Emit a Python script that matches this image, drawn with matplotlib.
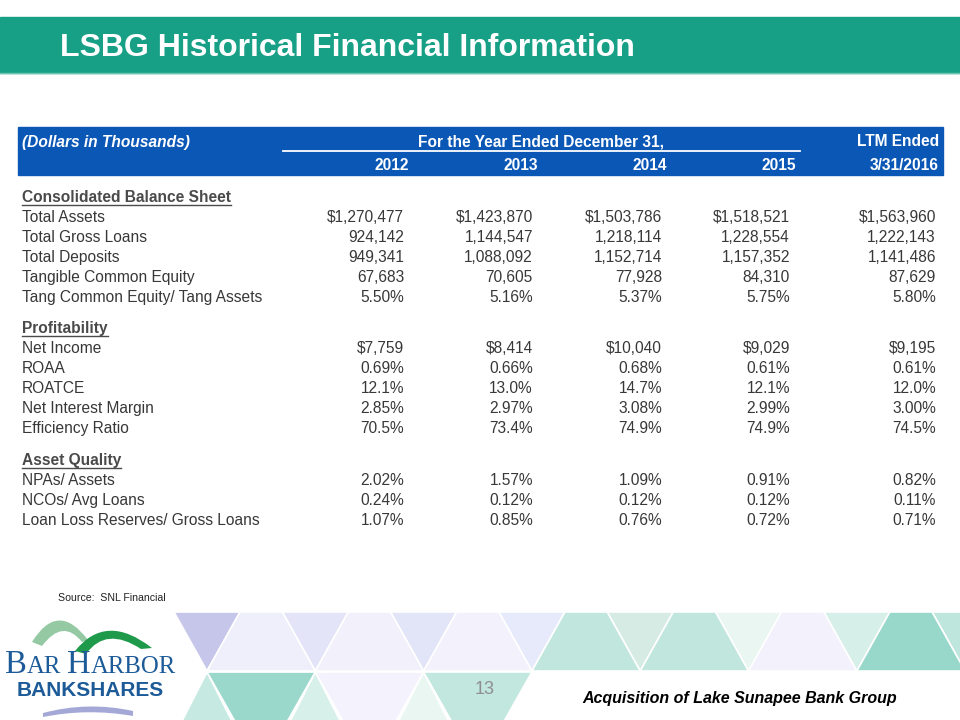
import matplotlib
matplotlib.use('Agg')
import matplotlib.pyplot as plt
from matplotlib.patches import Rectangle, Polygon, PathPatch
from matplotlib.path import Path

plt.rcParams['font.family'] = ['Liberation Sans', 'DejaVu Sans']

# table content
columns = ['2012', '2013', '2014', '2015', '3/31/2016']
sections = [
    ('Consolidated Balance Sheet', [
        ('Total Assets', ['$1,270,477', '$1,423,870', '$1,503,786', '$1,518,521', '$1,563,960']),
        ('Total Gross Loans', ['924,142', '1,144,547', '1,218,114', '1,228,554', '1,222,143']),
        ('Total Deposits', ['949,341', '1,088,092', '1,152,714', '1,157,352', '1,141,486']),
        ('Tangible Common Equity', ['67,683', '70,605', '77,928', '84,310', '87,629']),
        ('Tang Common Equity/ Tang Assets', ['5.50%', '5.16%', '5.37%', '5.75%', '5.80%']),
    ]),
    ('Profitability', [
        ('Net Income', ['$7,759', '$8,414', '$10,040', '$9,029', '$9,195']),
        ('ROAA', ['0.69%', '0.66%', '0.68%', '0.61%', '0.61%']),
        ('ROATCE', ['12.1%', '13.0%', '14.7%', '12.1%', '12.0%']),
        ('Net Interest Margin', ['2.85%', '2.97%', '3.08%', '2.99%', '3.00%']),
        ('Efficiency Ratio', ['70.5%', '73.4%', '74.9%', '74.9%', '74.5%']),
    ]),
    ('Asset Quality', [
        ('NPAs/ Assets', ['2.02%', '1.57%', '1.09%', '0.91%', '0.82%']),
        ('NCOs/ Avg Loans', ['0.24%', '0.12%', '0.12%', '0.12%', '0.11%']),
        ('Loan Loss Reserves/ Gross Loans', ['1.07%', '0.85%', '0.76%', '0.72%', '0.71%']),
    ]),
]

col_x = [404, 533, 662, 790, 936]
head_x = [409, 538, 667, 796, 939]
text_col = '#383838'
fs = 11.2

fig = plt.figure(figsize=(9.6, 7.2), dpi=100)
ax = fig.add_axes([0, 0, 1, 1])
ax.set_xlim(0, 960)
ax.set_ylim(720, 0)
ax.axis('off')

# title band
ax.add_patch(Rectangle((0, 17), 960, 56, color='#17a086'))
ax.plot([0, 960], [73, 73], color='#6cc4b0', lw=1)
ax.text(60, 48, 'LSBG Historical Financial Information', color='white',
        fontsize=23, fontweight='bold', va='center')

# table header
ax.add_patch(Rectangle((18, 127), 925, 48, color='#0b57b6'))
ax.text(22, 142, '(Dollars in Thousands)', color='white', fontsize=fs,
        fontweight='bold', style='italic', va='center')
ax.text(541, 142, 'For the Year Ended December 31,', color='white', fontsize=fs,
        fontweight='bold', va='center', ha='center')
ax.text(939, 142, 'LTM Ended', color='white', fontsize=fs,
        fontweight='bold', va='center', ha='right')
ax.plot([283, 800], [150.5, 150.5], color='white', lw=1.3)
for x, c in zip(head_x, columns):
    ax.text(x, 165, c, color='white', fontsize=fs, fontweight='bold',
            va='center', ha='right')

# table body
y = 197
headings = []
for title, rows in sections:
    t = ax.text(22, y, title, color='#4a4a4a', fontsize=fs,
                fontweight='bold', va='center')
    headings.append((t, y))
    y += 20
    for label, vals in rows:
        ax.text(22, y, label, color=text_col, fontsize=fs, va='center')
        for x, v in zip(col_x, vals):
            ax.text(x, y, v, color=text_col, fontsize=fs, va='center', ha='right')
        y += 20.1
    y += 11

# underline the section headings
fig.canvas.draw()
r = fig.canvas.get_renderer()
inv = ax.transData.inverted()
for t, yy in headings:
    bb = t.get_window_extent(r)
    x0, _ = inv.transform((bb.x0, bb.y0))
    x1, _ = inv.transform((bb.x1, bb.y0))
    ax.plot([x0, x1], [yy + 7.5, yy + 7.5], color='#4a4a4a', lw=1.0)

ax.text(58, 598, 'Source:  SNL Financial', color='#222222', fontsize=7.6, va='center')

# triangle band
apex = [207 + 108.3 * k for k in range(8)]
up_down = ['#c5c6ea', '#e4e4f8', '#e2e4f7', '#e6eafa', '#d5ebe3', '#e9f6f2', '#d6efe8', '#bfe6dd']
up_up = ['#efeffb', '#f1f0fb', '#f3f1fc', '#c0e6de', '#c0e6de', '#f3f1fc', '#98d8cb']
lo_up = ['#c6eae1', '#d8f0ea', '#eaf6f2']
lo_down = ['#9ad8cb', '#f4f2fc', '#c1e7df']
y0, y1, y2 = 612, 671, 720
for a, c in zip(apex, up_down):
    ax.add_patch(Polygon([(a - 33, y0), (a + 33, y0), (a, y1)], fc=c, ec='white', lw=1.2))
for a, b, c in zip(apex[:-1], apex[1:], up_up):
    ax.add_patch(Polygon([(a, y1), (a + 33, y0), (b - 33, y0), (b, y1)], fc=c, ec='white', lw=1.2))
for a, c in zip(apex[:3], lo_up):
    ax.add_patch(Polygon([(a, y1 + 1), (a - 27, y2 + 5), (a + 27, y2 + 5)], fc=c, ec='white', lw=1.2))
for a, b, c in zip(apex[:3], apex[1:4], lo_down):
    ax.add_patch(Polygon([(a, y1 + 1), (b, y1 + 1), (b - 30, y2 + 5), (a + 30, y2 + 5)], fc=c, ec='white', lw=1.2))

# logo
def arc_shape(pts, color):
    codes = [Path.MOVETO, Path.CURVE3, Path.CURVE3, Path.LINETO, Path.CURVE3, Path.CURVE3, Path.CLOSEPOLY]
    ax.add_patch(PathPatch(Path(pts + [pts[0]], codes), fc=color, ec='none'))

arc_shape([(32, 642), (58, 600), (88, 640), (82, 642), (63, 618), (42, 646)], '#94c9a4')
arc_shape([(75, 651), (106, 612), (152, 648), (141, 649), (106, 626), (86, 654)], '#1f9a4b')
arc_shape([(43, 713), (88, 701), (133, 711), (133, 716), (88, 708), (43, 717)], '#a4a8d6')

# small-caps wordmark, laid out piece by piece
logo_blue = '#1d5b98'
xx = 5
for part, size in [('B', 23.5), ('AR', 17.8), (' ', 17.8), ('H', 23.5), ('ARBOR', 17.8)]:
    t = ax.text(xx, 673, part, family='Liberation Serif', color=logo_blue,
                fontsize=size, ha='left', va='baseline')
    bb = t.get_window_extent(fig.canvas.get_renderer())
    xx = inv.transform((bb.x1, 0))[0]
ax.text(90, 691, 'BANKSHARES', color=logo_blue, fontsize=15, fontweight='bold',
        ha='center', va='center')

ax.text(485, 690, '13', color='#8f8f8f', fontsize=13, ha='center', va='center')
ax.text(740, 698, 'Acquisition of Lake Sunapee Bank Group', color='black', fontsize=11.5,
        fontweight='bold', style='italic', ha='center', va='center')

plt.savefig('out.png', dpi=100)
